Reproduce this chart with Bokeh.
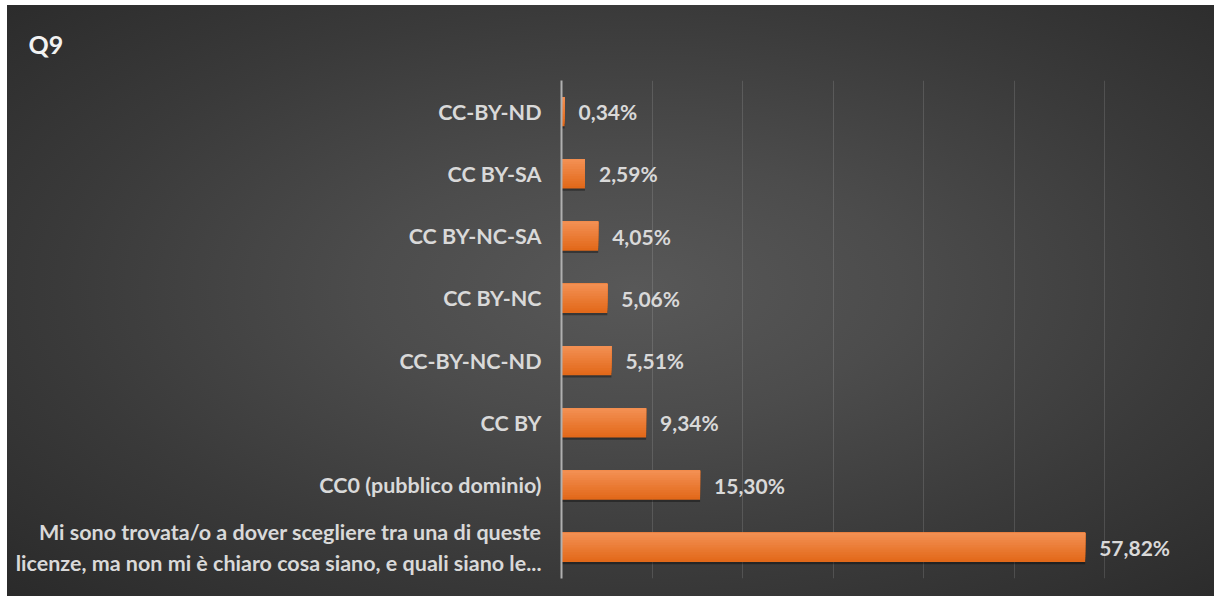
from bokeh.plotting import figure
from bokeh.models import ColumnDataSource, FactorRange, Range1d, SingleIntervalTicker
from bokeh.transform import dodge
from bokeh.core.properties import value
from bokeh.embed import file_html
from bokeh.resources import INLINE

title_text = "Q9"
categories = [
    "Mi sono trovata/o a dover scegliere tra una di queste\nlicenze, ma non mi è chiaro cosa siano, e quali siano le...",
    "CC0 (pubblico dominio)",
    "CC BY",
    "CC-BY-NC-ND",
    "CC BY-NC",
    "CC BY-NC-SA",
    "CC BY-SA",
    "CC-BY-ND",
]
values = [57.82, 15.30, 9.34, 5.51, 5.06, 4.05, 2.59, 0.34]
labels = [f"{v:.2f}".replace(".", ",") + "%" for v in values]

FONT = "Lato"
W, H = 1207, 591

src = ColumnDataSource(dict(cat=categories, val=values, lab=labels))

p = figure(
    width=W, height=H,
    y_range=FactorRange(*categories, range_padding=0),
    x_range=Range1d(0, 70),
    output_backend="svg", toolbar_location=None,
    min_border_left=554, min_border_right=19, min_border_top=75, min_border_bottom=18,
    background_fill_color=None, border_fill_color=None,
    outline_line_color=None,
    styles={
        "background": "radial-gradient(ellipse farthest-corner at 52% 48%, #585858 0%, #4c4c4c 30%, #3a3a3a 65%, #2a2a2a 100%)",
        "margin-left": "7px",
        "margin-top": "5px",
    },
)

p.title.text = title_text
p.title.align = "left"
p.title.offset = -533
p.title.standoff = 43
p.title.text_font = FONT
p.title.text_font_size = "25px"
p.title.text_font_style = "bold"
p.title.text_color = "#f2f2f2"

# bars: shadow + vertical gradient (overlapping, top-anchored layers)
BAR_H = 0.47
p.hbar(y=dodge("cat", -0.035, range=p.y_range), right="val", left=0, height=BAR_H,
       source=src, fill_color="black", fill_alpha=0.35, line_color=None)
top = (0xF3, 0x8F, 0x52)
bot = (0xE2, 0x69, 0x1A)
n = 12
for i in range(n):
    t = 1 - i / (n - 1)
    c = tuple(int(round(top[k] + (bot[k] - top[k]) * t)) for k in range(3))
    col = "#%02x%02x%02x" % c
    h = BAR_H * (n - i) / n
    off = BAR_H / 2 - h / 2
    p.hbar(y=dodge("cat", off, range=p.y_range), right="val", left=0,
           height=h, source=src, fill_color=col, line_color=None)

p.text(x="val", y="cat", text="lab", source=src, x_offset=14,
       text_align="left", text_baseline="middle",
       text_font=value(FONT), text_font_size="21px", text_font_style="bold",
       text_color="#d9d9d9")

p.xaxis.visible = False
p.xgrid.ticker = SingleIntervalTicker(interval=10)
p.xgrid.grid_line_color = "white"
p.xgrid.grid_line_alpha = 0.13
p.ygrid.grid_line_color = None

ax = p.yaxis[0]
ax.axis_line_color = "#b0b0b0"
ax.axis_line_width = 2
ax.major_tick_line_color = None
ax.minor_tick_line_color = None
ax.major_label_text_font = FONT
ax.major_label_text_font_size = "21.5px"
ax.major_label_text_font_style = "bold"
ax.major_label_text_color = "#d9d9d9"
ax.major_label_standoff = 14

open("out.html", "w").write(file_html(p, INLINE))
